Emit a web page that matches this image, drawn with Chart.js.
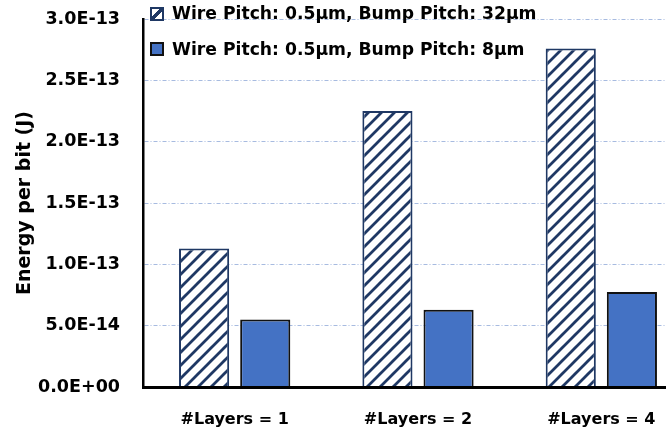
<!DOCTYPE html>
<html>
<head>
<meta charset="utf-8">
<script src="https://cdn.jsdelivr.net/npm/chart.js@4.4.1/dist/chart.umd.min.js"></script>
<style>
  html, body { margin: 0; padding: 0; background: #fff; overflow: hidden; }
  #wrap { position: relative; width: 693px; height: 433px; }
  .legend { position: absolute; left: 150px; top: 0; font: bold 17.2px "DejaVu Sans", sans-serif; color: #000; }
  .legend .item { position: absolute; left: 0; white-space: nowrap; height: 24px; line-height: 24px; }
  .legend .sw { position: absolute; left: 0; width: 10px; height: 10px; }
  .legend .txt { position: absolute; left: 22px; top: 0; }
</style>
</head>
<body>
<div id="wrap">
  <canvas id="energyChart"></canvas>
  <div class="legend">
    <div class="item" style="top:1px">
      <div class="sw" style="top:6px;border:2px solid #1f3864;background:linear-gradient(to bottom right,#fff 38%,#1f3864 38%,#1f3864 62%,#fff 62%)"></div>
      <span class="txt">Wire Pitch: 0.5µm, Bump Pitch: 32µm</span>
    </div>
    <div class="item" style="top:37px">
      <div class="sw" style="top:5px;border:2px solid #111;background:#4472c4"></div>
      <span class="txt">Wire Pitch: 0.5µm, Bump Pitch: 8µm</span>
    </div>
  </div>
</div>
<script>
// 데이터
const categories = ['#Layers = 1', '#Layers = 2', '#Layers = 4'];
const pitch32 = [1.13e-13, 2.25e-13, 2.76e-13];
const pitch8 = [5.5e-14, 6.3e-14, 7.75e-14];
const yTickValues = [0, 5e-14, 1e-13, 1.5e-13, 2e-13, 2.5e-13, 3e-13];
const yTickLabels = ['0.0E+00', '5.0E-14', '1.0E-13', '1.5E-13', '2.0E-13', '2.5E-13', '3.0E-13'];

const NAVY = '#1f3864';
const FONT = '"DejaVu Sans", sans-serif';

// 빗금 패턴
function makeHatch() {
    const size = 13;
    const c = document.createElement('canvas');
    c.width = size;
    c.height = size;
    const g = c.getContext('2d');
    g.fillStyle = '#fff';
    g.fillRect(0, 0, size, size);
    g.strokeStyle = NAVY;
    g.lineWidth = 2.8;
    g.beginPath();
    g.moveTo(-2, size + 2); g.lineTo(size + 2, -2);
    g.moveTo(-2, 2); g.lineTo(2, -2);
    g.moveTo(size - 2, size + 2); g.lineTo(size + 2, size - 2);
    g.stroke();
    return g.createPattern(c, 'repeat');
}

const ctx = document.getElementById('energyChart').getContext('2d');
const energyChart = new Chart(ctx, {
    type: 'bar',
    data: {
        labels: categories,
        datasets: [{
            label: 'Wire Pitch: 0.5µm, Bump Pitch: 32µm',
            data: pitch32,
            backgroundColor: makeHatch(),
            borderColor: NAVY,
            borderWidth: 2,
            borderSkipped: 'start',
            categoryPercentage: 0.667,
            barPercentage: 0.82
        }, {
            label: 'Wire Pitch: 0.5µm, Bump Pitch: 8µm',
            data: pitch8,
            backgroundColor: '#4472c4',
            borderColor: '#111',
            borderWidth: 2,
            borderSkipped: 'start',
            categoryPercentage: 0.667,
            barPercentage: 0.82
        }]
    },
    options: {
        responsive: true,
        maintainAspectRatio: false,
        animation: false,
        layout: { padding: { top: 19, right: 0, left: 0, bottom: 0 } },
        plugins: {
            legend: { display: false },
            tooltip: { enabled: false }
        },
        scales: {
            x: {
                grid: { display: false, drawTicks: false },
                border: { color: '#000', width: 3, z: 1 },
                ticks: {
                    color: '#000',
                    padding: 23,
                    font: { family: FONT, size: 16, weight: 'bold' }
                },
                afterFit: (scale) => { scale.height = 46; }
            },
            y: {
                min: 0,
                max: 3e-13,
                afterBuildTicks: (scale) => {
                    scale.ticks = yTickValues.map(v => ({ value: v }));
                },
                grid: {
                    color: (c) => c.tick && c.tick.value === 0 ? 'rgba(0,0,0,0)' : '#a7bbe0',
                    lineWidth: 1,
                    drawTicks: true,
                    tickLength: 20,
                    tickColor: 'rgba(0,0,0,0)'
                },
                border: { color: '#000', width: 2.5, z: 1, dash: [4, 2, 1, 2] },
                ticks: {
                    color: '#000',
                    padding: 3,
                    font: { family: FONT, size: 17.5, weight: 'bold' },
                    callback: (v, i) => yTickLabels[i]
                },
                title: {
                    display: true,
                    text: 'Energy per bit (J)',
                    color: '#000',
                    font: { family: FONT, size: 19, weight: 'bold' },
                    padding: { top: 14, bottom: 0 }
                },
                afterFit: (scale) => { scale.width = 143; }
            }
        }
    }
});
</script>
</body>
</html>
